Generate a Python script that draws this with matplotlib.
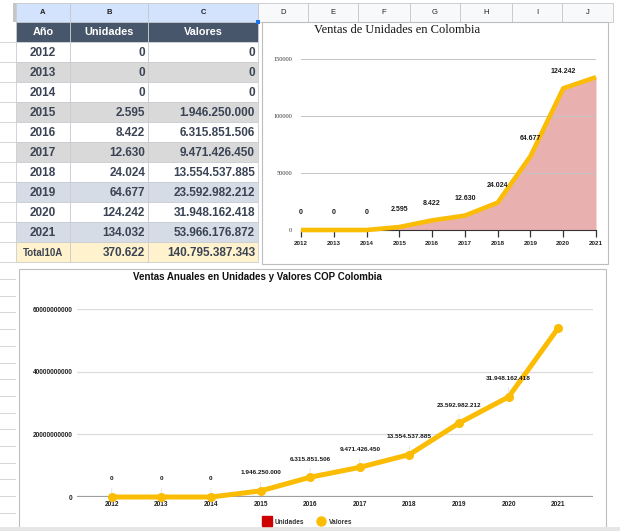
import matplotlib.pyplot as plt
from matplotlib.patches import Rectangle
from matplotlib.lines import Line2D

# data from the sheet
years = [2012, 2013, 2014, 2015, 2016, 2017, 2018, 2019, 2020, 2021]
unidades = [0, 0, 0, 2595, 8422, 12630, 24024, 64677, 124242, 134032]
valores = [0, 0, 0, 1946250000, 6315851506, 9471426450, 13554537885,
           23592982212, 31948162418, 53966176872]
total_unidades = 370622
total_valores = 140795387343
col_letters = ["A", "B", "C", "D", "E", "F", "G", "H", "I", "J"]

W, H = 620, 531
plt.rcParams['font.family'] = ['Liberation Sans', 'DejaVu Sans']

def fmt(v):
    return f"{v:,}".replace(",", ".")

def px_axes(l, t, r, b):
    return fig.add_axes([l / W, 1 - b / H, (r - l) / W, (b - t) / H])

fig = plt.figure(figsize=(W / 100, H / 100), dpi=100)
fig.patch.set_facecolor('white')

# ---- spreadsheet background -------------------------------------------
bg = fig.add_axes([0, 0, 1, 1])
bg.set_xlim(0, W)
bg.set_ylim(H, 0)
bg.axis('off')

# column header strip
col_edges = [16, 70, 148, 258, 308, 358, 410, 460, 512, 562, 613]
for i, letter in enumerate(col_letters):
    x0, x1 = col_edges[i], col_edges[i + 1]
    fc = '#d3e3fd' if i < 3 else '#f8f9fa'
    bg.add_patch(Rectangle((x0, 3), x1 - x0, 19, fc=fc, ec='#c7c7c7', lw=0.6))
    bg.text((x0 + x1) / 2, 12.5, letter, ha='center', va='center',
            fontsize=5.5, color='#1f1f1f', weight='bold' if i < 3 else 'normal')
bg.add_patch(Rectangle((13, 3), 3, 19, fc='#c4c7c5', ec='none'))

# left gutter row lines
gutter = [42, 62, 82, 102, 122, 142, 162, 182, 202, 222, 242, 262, 279]
gutter += [279 + 16.7 * k for k in range(1, 15)]
for y in gutter:
    bg.plot([0, 15], [y, y], color='#d0d0d0', lw=0.6)

# table
xa, xb, xc, xd = 16, 70, 148, 258
row_h = 20
top = 22
band = ['white', '#d9d9d9', 'white', '#d9d9d9', 'white', '#d9d9d9',
        'white', '#d6dce5', 'white', '#d6dce5']
txt = '#3a4454'
# header row
for x0, x1, lab in [(xa, xb, 'Año'), (xb, xc, 'Unidades'), (xc, xd, 'Valores')]:
    bg.add_patch(Rectangle((x0, top), x1 - x0, row_h, fc='#47566b', ec='#c9ccd1', lw=0.6))
    bg.text((x0 + x1) / 2, top + row_h / 2, lab, ha='center', va='center',
            fontsize=7.8, weight='bold', color='white')
bg.add_patch(Rectangle((xd - 2, top - 2), 4, 4, fc='#1a73e8', ec='none'))

for i, yr in enumerate(years):
    y0 = top + row_h * (i + 1)
    for x0, x1 in [(xa, xb), (xb, xc), (xc, xd)]:
        bg.add_patch(Rectangle((x0, y0), x1 - x0, row_h, fc=band[i], ec='#c9ccd1', lw=0.6))
    yc = y0 + row_h / 2 + 0.5
    bg.text((xa + xb) / 2, yc, str(yr), ha='center', va='center',
            fontsize=8.5, weight='bold', color=txt)
    bg.text(xc - 3, yc, fmt(unidades[i]), ha='right', va='center',
            fontsize=8.5, weight='bold', color=txt)
    bg.text(xd - 3, yc, fmt(valores[i]), ha='right', va='center',
            fontsize=8.5, weight='bold', color=txt)

y0 = top + row_h * 11
for x0, x1 in [(xa, xb), (xb, xc), (xc, xd)]:
    bg.add_patch(Rectangle((x0, y0), x1 - x0, row_h, fc='#fff2cc', ec='#c9ccd1', lw=0.6))
yc = y0 + row_h / 2 + 0.5
bg.text((xa + xb) / 2, yc, 'Total10A', ha='center', va='center',
        fontsize=7.0, weight='bold', color=txt)
bg.text(xc - 3, yc, fmt(total_unidades), ha='right', va='center',
        fontsize=8.5, weight='bold', color=txt)
bg.text(xd - 3, yc, fmt(total_valores), ha='right', va='center',
        fontsize=8.5, weight='bold', color=txt)

# chart frames
bg.add_patch(Rectangle((262, 22), 346, 242, fc='white', ec='#bdbdbd', lw=0.8))
bg.add_patch(Rectangle((19, 269), 587, 262, fc='white', ec='#bdbdbd', lw=0.8))
bg.add_patch(Rectangle((0, 527), W, 4, fc='#e6e6e6', ec='none'))

gold = '#fbbc04'

# ---- top chart: units area ---------------------------------------------
ax1 = px_axes(301, 59, 596, 230)
ax1.patch.set_alpha(0)
ax1.fill_between(years, unidades, color='#e9b0b0', lw=0, zorder=1)
ax1.plot(years, unidades, color=gold, lw=3.3, solid_capstyle='butt',
         zorder=3, clip_on=False)
ax1.set_xlim(2012, 2021)
ax1.set_ylim(0, 150000)
ax1.set_yticks([0, 50000, 100000, 150000])
ax1.set_yticklabels(['0', '50000', '100000', '150000'],
                    family='Liberation Serif', fontsize=4.6, color='#3c3c3c')
ax1.set_xticks(years)
ax1.set_xticklabels([str(y) for y in years], fontsize=4.5, weight='bold', color='#222222')
ax1.tick_params(axis='y', length=0, pad=6.5)
ax1.tick_params(axis='x', length=5, width=0.9, color='#333333', pad=3)
ax1.yaxis.grid(True, color='#c4c4c4', lw=0.7, zorder=2)
ax1.set_axisbelow(False)
for s in ['top', 'right', 'left']:
    ax1.spines[s].set_visible(False)
ax1.spines['bottom'].set_color('#333333')
for yr, u in zip(years[:-1], unidades[:-1]):
    ax1.annotate(fmt(u), (yr, u), xytext=(0, 12.5), textcoords='offset points',
                 ha='center', va='center', fontsize=5.0, weight='bold',
                 color='#1a1a1a', zorder=5)
fig.text(397 / W, 1 - 30 / H, 'Ventas de Unidades en Colombia', ha='center',
         va='center', family='Liberation Serif', fontsize=9, color='#111111')

# ---- bottom chart: values line -----------------------------------------
ax2 = px_axes(77, 309, 593, 497)
ax2.patch.set_alpha(0)
ax2.plot(years, valores, color=gold, lw=3.6, marker='o', markersize=5.5,
         zorder=3, clip_on=False)
ax2.set_xlim(2011.3, 2021.7)
ax2.set_ylim(0, 60000000000)
ax2.set_yticks([0, 20000000000, 40000000000, 60000000000])
ax2.set_yticklabels(['0', '20000000000', '40000000000', '60000000000'],
                    fontsize=4.7, weight='bold', color='#222222')
ax2.set_xticks(years)
ax2.set_xticklabels([str(y) for y in years], fontsize=4.7, weight='bold', color='#222222')
ax2.tick_params(axis='y', length=0, pad=3)
ax2.tick_params(axis='x', length=0, pad=3)
ax2.yaxis.grid(True, color='#dcdcdc', lw=0.9, zorder=1)
ax2.set_axisbelow(True)
for s in ax2.spines.values():
    s.set_visible(False)
ax2.axhline(0, color='#9e9e9e', lw=1.6, zorder=2)
for yr, v in zip(years[:-1], valores[:-1]):
    ax2.annotate(fmt(v), (yr, v), xytext=(0, 13), textcoords='offset points',
                 ha='center', va='center', fontsize=4.6, weight='bold',
                 color='#1a1a1a', zorder=5,
                 arrowprops=dict(arrowstyle='-', color='#e3e3e3', lw=0.6,
                                 shrinkA=3, shrinkB=3))
fig.text(257 / W, 1 - 277 / H, 'Ventas Anuales en Unidades y Valores COP Colombia',
         ha='center', va='center', fontsize=7, weight='bold', color='#111111')

handles = [Line2D([], [], ls='none', marker='s', markersize=6.5, color='#cc0000'),
           Line2D([], [], ls='none', marker='o', markersize=6.5, color=gold)]
leg = ax2.legend(handles, ['Unidades', 'Valores'], loc='center', ncol=2,
                 bbox_to_anchor=(308 / W, 1 - 522 / H), bbox_transform=fig.transFigure,
                 frameon=False, prop={'size': 4.7, 'weight': 'bold'},
                 handletextpad=0.6, columnspacing=2.2, handlelength=1.0)
for t in leg.get_texts():
    t.set_color('#333333')

fig.savefig('out.png', dpi=100)
